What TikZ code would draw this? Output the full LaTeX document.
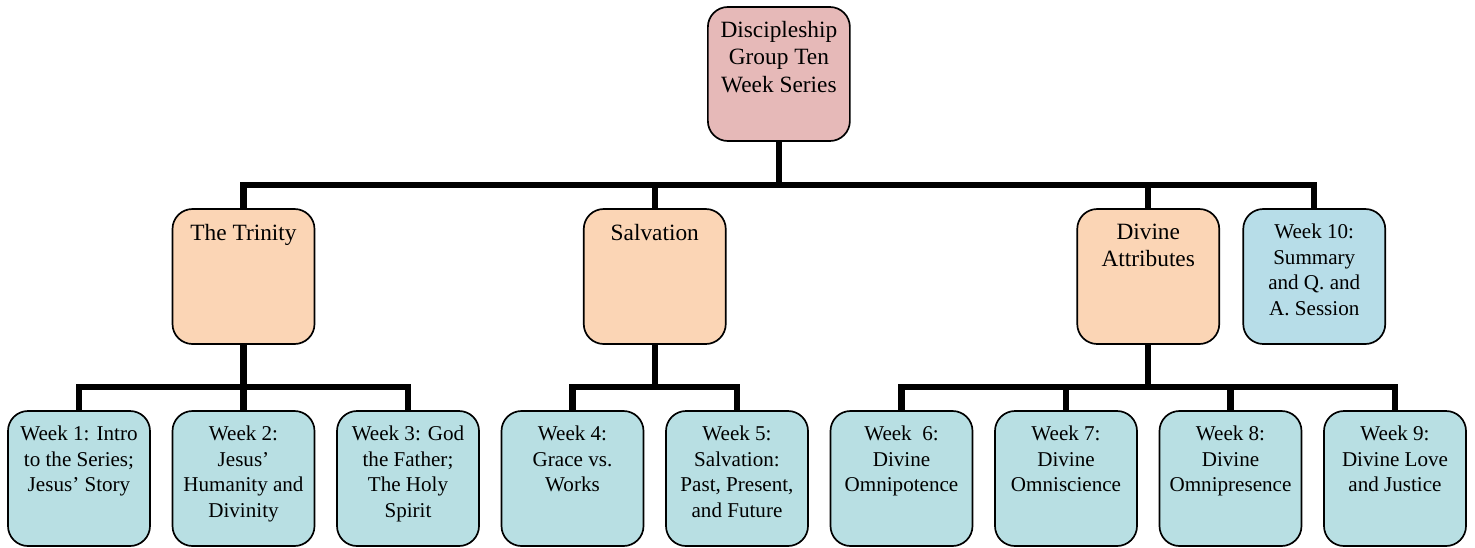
\documentclass[tikz,border=0pt]{standalone}
\usepackage{fontspec}
\setmainfont{Liberation Serif}
\usepackage{tikz}
\usetikzlibrary{positioning,calc}
\definecolor{seriesPink}{HTML}{E6B9B8}
\definecolor{topicPeach}{HTML}{FBD5B5}
\definecolor{weekBlue}{HTML}{B8DFE3}
\definecolor{summaryBlue}{HTML}{B7DDE8}
\newcommand{\boxtxt}[1]{\parbox[c][2.62cm][t]{3.45cm}{\centering #1}}

\begin{document}
\begin{tikzpicture}[
    node distance = 0.5625cm,
    block/.style = {rectangle, draw, line width=1.2pt, rounded corners=0.5cm, inner sep=0pt, outer sep=0pt, minimum width=3.55cm, minimum height=3.375cm, font=\fontsize{15}{18.1}\selectfont},
    week/.style = {block, fill=weekBlue},
    topic/.style = {block, fill=topicPeach, font=\fontsize{16.6}{19.1}\selectfont},
    link/.style = {line width=4.6pt, line join=miter}
]
    \useasboundingbox (0,0) rectangle (36.875,-13.675);

    % Week Row
    \node [week] (w1) at (1.975,-11.9625) {\boxtxt{Week 1: Intro\\ to the Series;\\ Jesus’ Story}};
    \node [week, right=of w1] (w2) {\boxtxt{Week 2:\\ Jesus’\\ Humanity and\\ Divinity}};
    \node [week, right=of w2] (w3) {\boxtxt{Week 3: God\\ the Father;\\ The Holy\\ Spirit}};
    \node [week, right=of w3] (w4) {\boxtxt{Week 4:\\ Grace vs.\\ Works}};
    \node [week, right=of w4] (w5) {\boxtxt{Week 5:\\ Salvation:\\ Past, Present,\\ and Future}};
    \node [week, right=of w5] (w6) {\boxtxt{Week\ \ 6:\\ Divine\\ Omnipotence}};
    \node [week, right=of w6] (w7) {\boxtxt{Week 7:\\ Divine\\ Omniscience}};
    \node [week, right=of w7] (w8) {\boxtxt{Week 8:\\ Divine\\ Omnipresence}};
    \node [week, right=of w8] (w9) {\boxtxt{Week 9:\\ Divine Love\\ and Justice}};

    % Topic Row
    \coordinate (midSalv) at ($(w4.north)!0.5!(w5.north)$);
    \coordinate (midDiv) at ($(w7.north)!0.5!(w8.north)$);
    \node [topic, above=1.675cm of w2] (trinity) {\boxtxt{The Trinity}};
    \node [topic, above=1.675cm of midSalv] (salvation) {\boxtxt{Salvation}};
    \node [topic, above=1.675cm of midDiv] (divine) {\boxtxt{Divine\\ Attributes}};
    \node [block, right=0.6cm of divine, fill=summaryBlue] (summary) {\boxtxt{Week 10:\\ Summary\\ and Q. and\\ A. Session}};

    % Series Title
    \coordinate (midTop) at ($(trinity.north)!0.5!(summary.north)$);
    \node [block, above=1.7cm of midTop, fill=seriesPink, minimum height=3.35cm, font=\fontsize{16.6}{19.3}\selectfont] (series) {\boxtxt{Discipleship\\ Group Ten\\ Week Series}};

    % Connections
    \coordinate [below=1.1cm of series] (busTop);
    \draw [link] (series.south) -- (busTop);
    \draw [link] (trinity.north) |- (busTop) -| (summary.north);
    \draw [link] (salvation.north) -- (salvation.north |- busTop);
    \draw [link] (divine.north) -- (divine.north |- busTop);

    \coordinate [below=1.075cm of trinity] (busTrinity);
    \draw [link] (trinity.south) -- (busTrinity);
    \draw [link] (w1.north) |- (busTrinity) -| (w3.north);
    \draw [link] (w2.north) -- (busTrinity);

    \coordinate [below=1.075cm of salvation] (busSalv);
    \draw [link] (salvation.south) -- (busSalv);
    \draw [link] (w4.north) |- (busSalv) -| (w5.north);

    \coordinate [below=1.075cm of divine] (busDiv);
    \draw [link] (divine.south) -- (busDiv);
    \draw [link] (w6.north) |- (busDiv) -| (w9.north);
    \draw [link] (w7.north) -- (w7.north |- busDiv);
    \draw [link] (w8.north) -- (w8.north |- busDiv);
\end{tikzpicture}
\end{document}
